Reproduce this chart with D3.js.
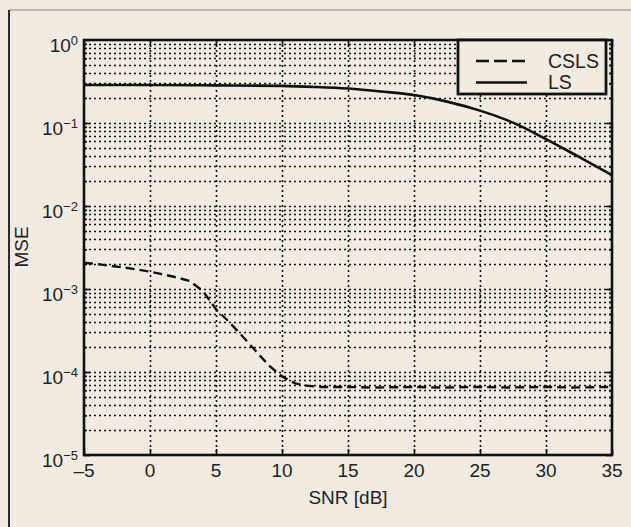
<!DOCTYPE html>
<html>
<head>
<meta charset="utf-8">
<script src="https://cdn.jsdelivr.net/npm/d3@7/dist/d3.min.js"></script>
<style>
  html, body { margin: 0; padding: 0; background: #f1ebe2; }
  svg { display: block; }
  text { font-family: "Liberation Sans", Arial, Helvetica, sans-serif; fill: #222; }
</style>
</head>
<body>
<svg id="chart" width="631" height="527"></svg>
<script>
// ---- data ----
const snrCSLS = [-5, -4, -3, -2, -1, 0, 1, 2, 3, 4, 5, 6, 7, 8, 9, 10, 11, 12, 13, 15, 17, 20, 22, 25, 27, 30, 32, 35];
const mseCSLS = [2.07e-3, 2.0e-3, 1.9e-3, 1.82e-3, 1.72e-3, 1.62e-3, 1.5e-3, 1.38e-3, 1.25e-3, 9.5e-4,
                 5.7e-4, 4.0e-4, 2.7e-4, 1.8e-4, 1.2e-4, 8.8e-5, 7.3e-5, 6.8e-5, 6.6e-5, 6.6e-5,
                 6.5e-5, 6.6e-5, 6.5e-5, 6.6e-5, 6.5e-5, 6.6e-5, 6.5e-5, 6.6e-5];
const snrLS = [-5, 0, 5, 10, 12.5, 15, 17.5, 20, 22.5, 25, 27.5, 30, 32.5, 35];
const mseLS = [0.287, 0.287, 0.284, 0.28, 0.272, 0.26, 0.24, 0.217, 0.181, 0.141, 0.101, 0.064, 0.039, 0.0236];
const xTicks = [-5, 0, 5, 10, 15, 20, 25, 30, 35];
const yExponents = [0, -1, -2, -3, -4, -5];
const seriesNames = ["CSLS", "LS"];
const xLabel = "SNR [dB]";
const yLabel = "MSE";

// ---- layout ----
const svg = d3.select("#chart");
const L = 84, R = 612, T = 40, B = 455;
const x = d3.scaleLinear().domain([-5, 35]).range([L, R]);
const y = d3.scaleLog().domain([1e-5, 1]).range([B, T]);

// outer frame
svg.append("rect").attr("x", 0).attr("y", 0).attr("width", 631).attr("height", 527).attr("fill", "#f1ebe2");
svg.append("line").attr("x1", 9).attr("x2", 640).attr("y1", 10).attr("y2", 10)
  .attr("stroke", "#8a8680").attr("stroke-width", 1.2);
svg.append("line").attr("x1", 9).attr("x2", 9).attr("y1", 10).attr("y2", 540)
  .attr("stroke", "#2e2c2a").attr("stroke-width", 2);

const g = svg.append("g");

// grid: horizontal at every minor/major decade tick
const yGridVals = [];
for (let e = -5; e < 0; e++) {
  for (let m = 1; m <= 9; m++) {
    const v = m * Math.pow(10, e);
    if (v > 1e-5 && v < 1) yGridVals.push(v);
  }
}
const dash = "2,3";
const snap = v => Math.round(v) + 0.5;
g.selectAll(".hg").data(yGridVals).enter().append("line")
  .attr("x1", L).attr("x2", R)
  .attr("y1", d => snap(y(d))).attr("y2", d => snap(y(d)))
  .attr("stroke", "#111").attr("stroke-width", 1.6).attr("stroke-dasharray", dash);
g.selectAll(".vg").data(xTicks.slice(1, -1)).enter().append("line")
  .attr("x1", d => snap(x(d))).attr("x2", d => snap(x(d)))
  .attr("y1", T).attr("y2", B)
  .attr("stroke", "#111").attr("stroke-width", 1.6).attr("stroke-dasharray", dash);

// ticks (inward)
const xAxisB = d3.axisBottom(x).tickValues(xTicks).tickSize(-6).tickFormat("");
const xAxisT = d3.axisTop(x).tickValues(xTicks).tickSize(-6).tickFormat("");
const yMajor = yExponents.map(e => Math.pow(10, e));
const yAxisL = d3.axisLeft(y).tickValues(yGridVals).tickSize(-3).tickFormat("");
const yAxisR = d3.axisRight(y).tickValues(yGridVals).tickSize(-3).tickFormat("");
const yAxisLM = d3.axisLeft(y).tickValues(yMajor).tickSize(-6).tickFormat("");
const yAxisRM = d3.axisRight(y).tickValues(yMajor).tickSize(-6).tickFormat("");
[[xAxisB, `translate(0,${B})`], [xAxisT, `translate(0,${T})`],
 [yAxisL, `translate(${L},0)`], [yAxisR, `translate(${R},0)`],
 [yAxisLM, `translate(${L},0)`], [yAxisRM, `translate(${R},0)`]].forEach(([ax, tr]) => {
  const a = g.append("g").attr("transform", tr).call(ax);
  a.select(".domain").remove();
  a.selectAll("line").attr("stroke", "#111").attr("stroke-width", 1.6);
});

// x tick labels
g.selectAll(".xl").data(xTicks).enter().append("text")
  .attr("x", d => x(d)).attr("y", 477)
  .attr("text-anchor", "middle").attr("font-size", 19)
  .text(d => d < 0 ? "\u2013" + Math.abs(d) : d);

// y tick labels
yExponents.forEach(e => {
  const t = g.append("text").attr("x", 78).attr("y", y(Math.pow(10, e)) + 12)
    .attr("text-anchor", "end").attr("font-size", 19);
  t.append("tspan").text("10");
  t.append("tspan").attr("font-size", 13).attr("dy", -7.5)
    .text(e < 0 ? "\u2212" + Math.abs(e) : e);
});

// axis titles
svg.append("text").attr("x", (L + R) / 2).attr("y", 504).attr("text-anchor", "middle")
  .attr("font-size", 19).text(xLabel);
svg.append("text").attr("transform", "translate(28,247) rotate(-90)").attr("text-anchor", "middle")
  .attr("font-size", 19).text(yLabel);

// curves
const lineSmooth = d3.line().x(d => x(d[0])).y(d => y(d[1])).curve(d3.curveMonotoneX);
const line = d3.line().x(d => x(d[0])).y(d => y(d[1]));
g.append("path").datum(snrLS.map((s, i) => [s, mseLS[i]]))
  .attr("d", lineSmooth).attr("fill", "none").attr("stroke", "#111").attr("stroke-width", 2.6);
g.append("path").datum(snrCSLS.map((s, i) => [s, mseCSLS[i]]))
  .attr("d", line).attr("fill", "none").attr("stroke", "#111").attr("stroke-width", 2.4)
  .attr("stroke-dasharray", "9,5");

// plot box
g.append("rect").attr("x", L).attr("y", T).attr("width", R - L).attr("height", B - T)
  .attr("fill", "none").attr("stroke", "#111").attr("stroke-width", 2.6);

// legend
const lg = svg.append("g");
lg.append("rect").attr("x", 458).attr("y", 40).attr("width", 148).attr("height", 54)
  .attr("fill", "#f1ebe2").attr("stroke", "#111").attr("stroke-width", 2.8);
const legendStyles = ["13,5", null];
seriesNames.forEach((name, i) => {
  const ly = 61 + i * 21.5;
  const ln = lg.append("line").attr("x1", 476).attr("x2", 527).attr("y1", ly).attr("y2", ly)
    .attr("stroke", "#111").attr("stroke-width", 2.6);
  if (legendStyles[i]) ln.attr("stroke-dasharray", legendStyles[i]);
  lg.append("text").attr("x", 548).attr("y", ly + 6.8).attr("font-size", 19.5).text(name);
});
</script>
</body>
</html>
